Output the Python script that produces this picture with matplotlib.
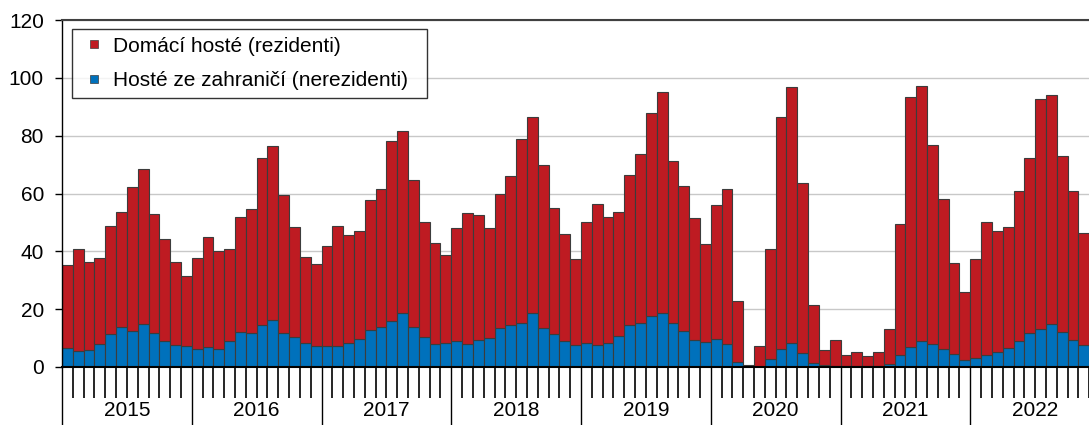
import matplotlib
matplotlib.use('Agg')
import matplotlib.pyplot as plt
from matplotlib.lines import Line2D
import numpy as np

plt.rcParams['font.family'] = ['Liberation Sans', 'DejaVu Sans']

# monthly values, Jan 2015 .. Nov 2022 (Dec 2022 is cut off in the source)
years = ['2015', '2016', '2017', '2018', '2019', '2020', '2021', '2022']

celkem = [
    35.2, 40.9, 36.2, 37.7, 48.8, 53.5, 62.4, 68.3, 52.8, 44.1, 36.4, 31.3,   # 2015
    37.8, 44.9, 40.1, 40.9, 52.0, 54.6, 72.3, 76.4, 59.4, 48.3, 38.1, 35.5,   # 2016
    42.0, 48.6, 45.7, 46.9, 57.7, 61.4, 78.3, 81.5, 64.5, 50.1, 43.0, 38.9,   # 2017
    47.9, 53.4, 52.5, 47.9, 59.9, 66.2, 79.0, 86.3, 69.7, 55.0, 46.0, 37.5,   # 2018
    50.1, 56.4, 52.0, 53.6, 66.3, 73.6, 87.7, 95.0, 71.2, 62.6, 51.6, 42.6,   # 2019
    55.9, 61.4, 22.7, 0.8, 7.2, 40.9, 86.5, 96.7, 63.6, 21.5, 6.0, 9.2,       # 2020
    4.3, 5.3, 3.9, 5.3, 13.1, 49.6, 93.5, 97.1, 76.6, 58.2, 36.0, 26.0,       # 2021
    37.4, 50.3, 47.2, 48.4, 60.8, 72.4, 92.6, 94.0, 72.9, 60.8, 46.3,         # 2022
]

nerezidenti = [
    6.6, 5.5, 6.0, 7.8, 11.5, 13.8, 12.3, 14.8, 11.9, 9.1, 7.6, 7.3,
    6.2, 6.9, 6.2, 8.9, 12.1, 11.9, 14.5, 16.1, 11.6, 10.4, 8.2, 7.4,
    7.4, 7.4, 8.2, 9.6, 12.9, 13.8, 15.9, 18.7, 13.8, 10.4, 8.1, 8.4,
    9.1, 8.1, 9.3, 10.0, 13.5, 14.6, 15.1, 18.6, 13.6, 11.5, 9.1, 7.5,
    8.4, 7.6, 8.4, 10.8, 14.6, 15.3, 17.8, 18.7, 15.3, 12.5, 9.5, 8.8,
    9.7, 8.1, 1.8, 0.2, 0.1, 2.9, 6.2, 8.4, 5.0, 1.5, 0.6, 0.3,
    0.2, 0.2, 0.2, 0.3, 1.0, 4.2, 7.0, 9.0, 8.1, 6.2, 4.5, 2.3,
    3.2, 4.2, 5.2, 6.6, 9.0, 11.9, 13.1, 14.9, 12.1, 9.3, 7.6,
]

COLORS = {
    'red': '#BE1B22',
    'blue': '#0071BC',
    'edge': '#3C3C3C',
    'grid': '#C8C8C8',
}
FS = 15

n_slots = 12 * len(years)
celkem = np.array(celkem)
nerezidenti = np.array(nerezidenti)
rezidenti = celkem - nerezidenti
x = np.arange(len(celkem))

fig = plt.figure(figsize=(10.89, 4.25), dpi=100)
# axes runs past the right edge of the figure, like the cropped source
ax = fig.add_axes([62 / 1089, 58 / 425, 1038 / 1089, 347 / 425])

ax.bar(x, nerezidenti, width=1.0, color=COLORS['blue'],
       edgecolor=COLORS['edge'], linewidth=0.8, zorder=2)
ax.bar(x, rezidenti, width=1.0, bottom=nerezidenti, color=COLORS['red'],
       edgecolor=COLORS['edge'], linewidth=0.8, zorder=2)

ax.set_xlim(-0.5, n_slots - 0.5)
ax.set_ylim(0, 120)
ax.set_yticks(np.arange(0, 121, 20))
ax.yaxis.grid(True, color=COLORS['grid'], linewidth=1)
ax.set_axisbelow(True)
ax.tick_params(axis='y', direction='out', length=5, width=1, pad=8,
               labelsize=FS, color='black')

# years as long major ticks, months as short minor ticks
ax.set_xticks(np.arange(-0.5, n_slots, 12))
ax.set_xticks(np.arange(-0.5, n_slots, 1), minor=True)
ax.set_xticklabels([])
ax.tick_params(axis='x', which='major', direction='out', length=42, width=1, color='black')
ax.tick_params(axis='x', which='minor', direction='out', length=22, width=1.2, color='black')

for i, yr in enumerate(years):
    ax.annotate(yr, xy=(12 * i + 5.5, 0), xycoords=('data', 'axes fraction'),
                xytext=(0, -31), textcoords='offset points',
                ha='center', va='center', fontsize=FS)

ax.spines['top'].set_color('#404040')
ax.spines['top'].set_linewidth(1.5)
ax.spines['right'].set_visible(False)
ax.spines['left'].set_linewidth(1)
ax.spines['bottom'].set_linewidth(1.5)

handles = [Line2D([], [], linestyle='none', marker='s', markersize=6,
                  markerfacecolor=COLORS['red'], markeredgecolor=COLORS['edge'],
                  markeredgewidth=0.5, label='Domácí hosté (rezidenti)'),
           Line2D([], [], linestyle='none', marker='s', markersize=6,
                  markerfacecolor=COLORS['blue'], markeredgecolor=COLORS['edge'],
                  markeredgewidth=0.5, label='Hosté ze zahraničí (nerezidenti)  ')]
leg = ax.legend(handles=handles, loc='upper left', bbox_to_anchor=(10 / 1038, 1 - 9 / 347),
                fontsize=FS, frameon=True, fancybox=False, edgecolor='black',
                handlelength=1.36, handletextpad=0.25,
                borderpad=0.37, labelspacing=0.75, borderaxespad=0)
leg.get_frame().set_linewidth(1)

fig.savefig('out.png', dpi=100, facecolor='white')
